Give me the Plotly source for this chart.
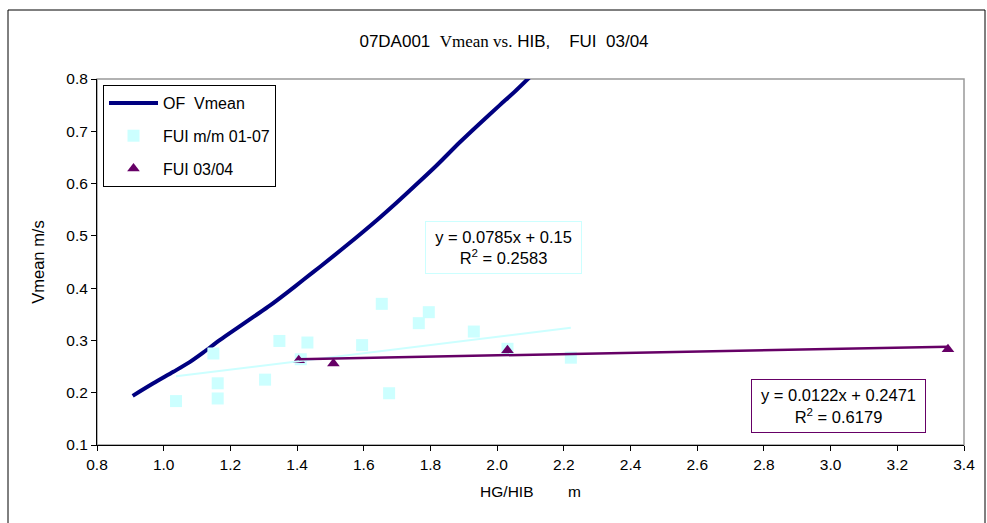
import plotly.graph_objects as go

# ---- data ----
of_x = [0.907, 0.969, 1.029, 1.079, 1.119, 1.169, 1.219, 1.269, 1.319, 1.369, 1.419,
        1.469, 1.549, 1.639, 1.699, 1.759, 1.819, 1.888, 1.948, 2.008, 2.058, 2.108]
of_y = [0.194, 0.218, 0.240, 0.259, 0.277, 0.301, 0.323, 0.345, 0.367, 0.391, 0.416,
        0.441, 0.482, 0.530, 0.564, 0.599, 0.635, 0.679, 0.715, 0.750, 0.779, 0.810]

fui_mm_x = [1.149, 1.162, 1.162, 1.037, 1.304, 1.347, 1.431, 1.411, 1.595, 1.654,
            1.676, 1.765, 1.795, 1.930, 2.031, 2.221]
fui_mm_y = [0.275, 0.218, 0.189, 0.184, 0.225, 0.299, 0.296, 0.264, 0.291, 0.370,
            0.199, 0.333, 0.354, 0.317, 0.284, 0.267]

fui_0304_x = [1.405, 1.509, 2.031, 3.352]
fui_0304_y = [0.262, 0.256, 0.281, 0.283]

# trendline coefficients as printed on the chart
mm_slope, mm_intercept = 0.0785, 0.15
f34_slope, f34_intercept = 0.0122, 0.2471

x_ticks = [0.8, 1.0, 1.2, 1.4, 1.6, 1.8, 2.0, 2.2, 2.4, 2.6, 2.8, 3.0, 3.2, 3.4]
y_ticks = [0.1, 0.2, 0.3, 0.4, 0.5, 0.6, 0.7, 0.8]

FONT = "Liberation Sans, Arial, sans-serif"
SERIF = "Liberation Serif, Times New Roman, serif"
NAVY = "#000080"
CYAN = "#CCFFFF"
PURPLE = "#660066"
NB = "\u00a0"

mm_tx = [min(fui_mm_x), max(fui_mm_x)]
mm_ty = [mm_slope * v + mm_intercept for v in mm_tx]
f34_tx = [min(fui_0304_x), max(fui_0304_x)]
f34_ty = [f34_slope * v + f34_intercept for v in f34_tx]

fig = go.Figure()
fig.add_trace(go.Scatter(x=of_x, y=of_y, mode="lines", name="OF" + NB + NB + "Vmean",
                         line=dict(color=NAVY, width=4, shape="spline", smoothing=0.8),
                         legendgroup="a"))
fig.add_trace(go.Scatter(x=fui_mm_x, y=fui_mm_y, mode="markers", name="FUI m/m 01-07",
                         marker=dict(symbol="square", size=12, color=CYAN), legendgroup="b"))
fig.add_trace(go.Scatter(x=fui_0304_x, y=fui_0304_y, mode="markers", name="FUI 03/04",
                         marker=dict(symbol="triangle-up", size=11, color=PURPLE), legendgroup="c"))
fig.add_trace(go.Scatter(x=mm_tx, y=mm_ty, mode="lines", showlegend=False,
                         line=dict(color=CYAN, width=2), hoverinfo="skip"))
fig.add_trace(go.Scatter(x=f34_tx, y=f34_ty, mode="lines", showlegend=False,
                         line=dict(color=PURPLE, width=2.5), hoverinfo="skip"))

L, R, T, B = 97, 23, 79, 78
W, H = 987, 523
pw, ph = W - L - R, H - T - B

def px2paper(x, y):
    return (x - L) / pw, (H - B - y) / ph

ox0, oy1 = px2paper(8, 10)
ox1, oy0 = px2paper(985, 540)

title_text = ("07DA001" + NB * 2 + '<span style="font-family:' + SERIF + '">Vmean vs.</span>' + NB +
              "HIB," + NB * 4 + "FUI" + NB * 2 + "03/04")

fig.update_layout(
    width=W, height=H,
    margin=dict(l=L, r=R, t=T, b=B, autoexpand=False),
    paper_bgcolor="white", plot_bgcolor="white",
    font=dict(family=FONT, size=16, color="black"),
    title=dict(text=title_text,
               x=px2paper(504, 0)[0], xref="paper", xanchor="center",
               y=1 - 41 / H, yref="container", yanchor="middle",
               font=dict(size=17, family=FONT)),
    xaxis=dict(range=[0.8, 3.4], tickvals=x_ticks, ticktext=[f"{v:.1f}" for v in x_ticks],
               showgrid=False, zeroline=False, showline=True, linecolor="black", linewidth=1,
               ticks="outside", ticklen=5, tickcolor="black", tickfont=dict(size=15.5),
               title=dict(text="HG/HIB" + NB * 8 + "m", standoff=14, font=dict(size=15.5))),
    yaxis=dict(range=[0.1, 0.8], tickvals=y_ticks, ticktext=[f"{v:.1f}" for v in y_ticks],
               showgrid=False, zeroline=False, showline=True, linecolor="black", linewidth=1,
               ticks="outside", ticklen=5, tickcolor="black", tickfont=dict(size=15.5),
               title=dict(text="Vmean m/s", standoff=17, font=dict(size=16.5))),
    legend=dict(x=px2paper(103, 85)[0], y=px2paper(103, 85)[1], xanchor="left", yanchor="top",
                bgcolor="white", bordercolor="black", borderwidth=1,
                font=dict(size=16, family=FONT), tracegroupgap=9, itemwidth=49),
    shapes=[
        dict(type="rect", xref="paper", yref="paper", x0=0, x1=1, y0=0, y1=1,
             line=dict(color="#999999", width=1.5), layer="below"),
        dict(type="rect", xref="paper", yref="paper", x0=ox0, x1=ox1, y0=oy0, y1=oy1,
             line=dict(color="black", width=1), layer="below"),
    ],
    annotations=[
        dict(text="y = 0.0785x + 0.15<br>R<sup>2</sup> = 0.2583", xref="paper", yref="paper",
             x=px2paper(503.5, 248)[0], y=px2paper(503.5, 248)[1], xanchor="center", yanchor="middle",
             showarrow=False, bordercolor=CYAN, borderwidth=1, borderpad=1, width=153, height=49,
             bgcolor="white", font=dict(size=16.5)),
        dict(text="y = 0.0122x + 0.2471<br>R<sup>2</sup> = 0.6179", xref="paper", yref="paper",
             x=px2paper(838.5, 406)[0], y=px2paper(838.5, 406)[1], xanchor="center", yanchor="middle",
             showarrow=False, bordercolor=PURPLE, borderwidth=1, borderpad=1, width=171, height=50,
             bgcolor="white", font=dict(size=16.5)),
    ],
)

fig.write_html("out.html", config={"displayModeBar": False},
               post_script="document.body.style.margin='0px';")
